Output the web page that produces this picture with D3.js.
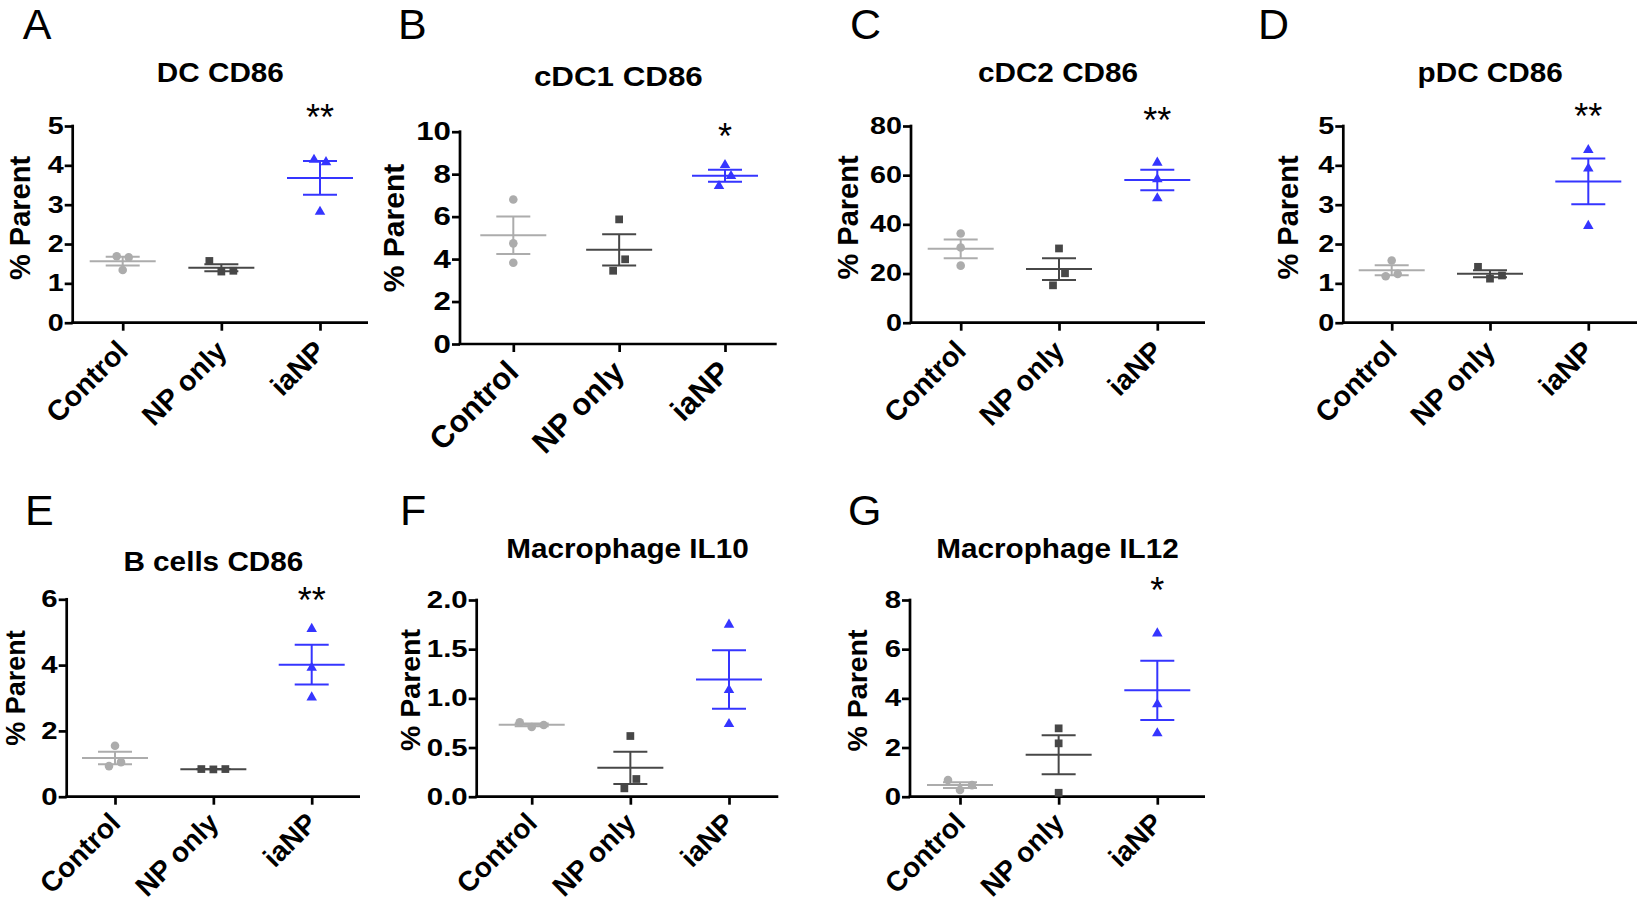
<!DOCTYPE html>
<html><head><meta charset="utf-8">
<script src="https://cdn.jsdelivr.net/npm/d3@7"></script>
<style>
body{margin:0;background:#fff}
svg{display:block}
text{font-family:"Liberation Sans",Arial,Helvetica,sans-serif}
</style>
</head><body>
<svg id="fig" width="1638" height="904"></svg>
<script>
// ---------- data ----------
const categories = ["Control", "NP only", "iaNP"];
const panelLetters = ["A", "B", "C", "D", "E", "F", "G"];
const titles = ["DC CD86", "cDC1 CD86", "cDC2 CD86", "pDC CD86", "B cells CD86", "Macrophage IL10", "Macrophage IL12"];
const yMaxes = [5, 10, 80, 5, 6, 2, 8];
const yTickSteps = [1, 2, 20, 1, 2, 0.5, 2];
const yTickFormats = ["d", "d", "d", "d", "d", ".1f", "d"];
const stars = ["**", "*", "**", "**", "**", "", "*"];
const yLabel = "% Parent";

// values per group: [Control, NP only, iaNP]
const dcCD86     = [[1.69, 1.66, 1.34], [1.57, 1.30, 1.32], [4.14, 4.08, 2.82]];
const cdc1CD86   = [[6.81, 4.74, 3.83], [5.87, 3.45, 3.99], [8.43, 7.44, 7.91]];
const cdc2CD86   = [[36.3, 30.6, 23.2], [30.2, 15.2, 20.1], [65.1, 58.4, 50.6]];
const pdcCD86    = [[1.58, 1.18, 1.24], [1.42, 1.12, 1.20], [4.39, 3.92, 2.46]];
const bcellsCD86 = [[1.55, 0.93, 1.05], [0.84, 0.83, 0.84], [5.10, 3.92, 3.02]];
const macIL10    = [[0.756, 0.708, 0.729], [0.617, 0.085, 0.18], [1.75, 1.085, 0.739]];
const macIL12    = [[0.68, 0.27, 0.47], [2.78, 2.17, 0.16], [6.64, 3.76, 2.58]];
const panelValues = [dcCD86, cdc1CD86, cdc2CD86, pdcCD86, bcellsCD86, macIL10, macIL12];

// ---------- styles / layout ----------
const groupColors = ["#acacac", "#474747", "#3535ff"];
const groupShapes = [d3.symbolCircle, d3.symbolSquare, d3.symbolTriangle];

const layout = [
  {left:72.7,  right:368,   top:126,   bottom:322.7, c0:122.7,  c2:320,    letter:[22.7,39], titleY:81.7,  ylab:[20,218],    star:113,   catOff:[7,30], fs:{tick:23,cat:28.5,title:27,ylab:29}},
  {left:460,   right:776.7, top:131.7, bottom:344,   c0:513.3,  c2:725,    letter:[398,39],  titleY:86,    ylab:[393,228],   star:131.7, catOff:[7,30], fs:{tick:25,cat:31,title:28.5,ylab:30}},
  {left:911,   right:1205,  top:126,   bottom:322.7, c0:960.7,  c2:1157.3, letter:[850,39],  titleY:81.7,  ylab:[848,217.5], star:116,   catOff:[7,30], fs:{tick:23,cat:28.5,title:27,ylab:29}},
  {left:1343.3,right:1637,  top:126,   bottom:322.7, c0:1391.7, c2:1588.3, letter:[1258,39], titleY:81.7,  ylab:[1288,217.5],star:111.7, catOff:[7,30], fs:{tick:23,cat:28.5,title:27,ylab:29}},
  {left:66.7,  right:360,   top:599.3, bottom:796.7, c0:115,    c2:311.7,  letter:[25,525],  titleY:570.7, ylab:[15,688],    star:596,   catOff:[7,28], fs:{tick:23.5,cat:28,title:27,ylab:27}},
  {left:476.7, right:778.3, top:600,   bottom:796.7, c0:531.7,  c2:729,    letter:[400,525], titleY:558.3, ylab:[410,690],   star:null,  catOff:[7,28], fs:{tick:23.5,cat:28,title:27,ylab:28.5}},
  {left:910,   right:1205,  top:600,   bottom:796.7, c0:960,    c2:1157.3, letter:[848,525], titleY:558.3, ylab:[857,690.5], star:586,   catOff:[7,28], fs:{tick:23.5,cat:28,title:27,ylab:28.5}}
];

const svg = d3.select("#fig");
const AXIS_W = 2.7, LINE_W = 2, MEAN_HW = 33, CAP_HW = 17, ROW_T = 12.4, SPREAD = 12;
const TICK_SX = 1.25, TITLE_SX = 1.1;

// Prism-like column scatter: points closer than ROW_T px form a row, centered on the column
function scatterOffsets(vals, y) {
  const idx = vals.map((v, i) => i).sort((a, b) => vals[a] - vals[b]);
  const off = new Array(vals.length).fill(0);
  let i = 0;
  while (i < idx.length) {
    const startY = y(vals[idx[i]]);
    const row = [idx[i]];
    let j = i + 1;
    while (j < idx.length && Math.abs(startY - y(vals[idx[j]])) < ROW_T) { row.push(idx[j]); j++; }
    row.sort((a, b) => a - b);
    row.forEach((k, r) => { off[k] = (r - (row.length - 1) / 2) * SPREAD; });
    i = j;
  }
  return off;
}

panelValues.forEach((groups, p) => {
  const L = layout[p];
  const g = svg.append("g");
  const y = d3.scaleLinear().domain([0, yMaxes[p]]).range([L.bottom, L.top]);
  const x = d3.scalePoint().domain(categories).range([L.c0, L.c2]);

  // panel letter
  g.append("text").attr("x", L.letter[0]).attr("y", L.letter[1])
    .attr("font-size", 43).attr("fill", "#000").text(panelLetters[p]);
  // title
  g.append("text").attr("transform", `translate(${(L.left + L.right) / 2},${L.titleY}) scale(${TITLE_SX},1)`)
    .attr("text-anchor", "middle").attr("font-weight", "bold")
    .attr("font-size", L.fs.title).text(titles[p]);
  // y label
  g.append("text").attr("transform", `translate(${L.ylab[0]},${L.ylab[1]}) rotate(-90)`)
    .attr("text-anchor", "middle").attr("dy", "0.36em")
    .attr("font-weight", "bold").attr("font-size", L.fs.ylab).text(yLabel);

  // y axis
  const ticks = d3.range(0, yMaxes[p] + yTickSteps[p] / 2, yTickSteps[p]);
  const yAxis = d3.axisLeft(y).tickValues(ticks).tickFormat(d3.format(yTickFormats[p]))
    .tickSize(8).tickPadding(1);
  const ya = g.append("g").attr("transform", `translate(${L.left},0)`).call(yAxis);
  ya.select(".domain").remove();
  ya.selectAll(".tick line").attr("stroke", "#000").attr("stroke-width", AXIS_W);
  ya.selectAll(".tick text").attr("fill", "#000").attr("font-size", L.fs.tick)
    .attr("font-weight", "bold").style("font-family", '"Liberation Sans",Arial,sans-serif')
    .attr("x", 0).attr("transform", `translate(-9,0) scale(${TICK_SX},1)`);
  g.append("line").attr("x1", L.left).attr("x2", L.left)
    .attr("y1", L.top - AXIS_W / 2).attr("y2", L.bottom)
    .attr("stroke", "#000").attr("stroke-width", AXIS_W);

  // x axis
  const xAxis = d3.axisBottom(x).tickSize(8).tickFormat("");
  const xa = g.append("g").attr("transform", `translate(0,${L.bottom})`).call(xAxis);
  xa.select(".domain").remove();
  xa.selectAll(".tick line").attr("stroke", "#000").attr("stroke-width", AXIS_W);
  g.append("line").attr("x1", L.left - AXIS_W / 2).attr("x2", L.right)
    .attr("y1", L.bottom).attr("y2", L.bottom)
    .attr("stroke", "#000").attr("stroke-width", AXIS_W);
  // category labels
  categories.forEach(c => {
    g.append("text")
      .attr("transform", `translate(${x(c) + L.catOff[0]},${L.bottom + L.catOff[1]}) rotate(-45)`)
      .attr("text-anchor", "end").attr("font-weight", "bold")
      .attr("font-size", L.fs.cat).text(c);
  });

  // groups
  groups.forEach((vals, gi) => {
    const cx = x(categories[gi]);
    const col = groupColors[gi];
    const m = d3.mean(vals);
    const sem = d3.deviation(vals) / Math.sqrt(vals.length);
    const eg = g.append("g").attr("stroke", col).attr("stroke-width", LINE_W);
    eg.append("line").attr("x1", cx - MEAN_HW).attr("x2", cx + MEAN_HW).attr("y1", y(m)).attr("y2", y(m));
    eg.append("line").attr("x1", cx).attr("x2", cx).attr("y1", y(m + sem)).attr("y2", y(m - sem));
    [m + sem, m - sem].forEach(v => {
      eg.append("line").attr("x1", cx - CAP_HW).attr("x2", cx + CAP_HW).attr("y1", y(v)).attr("y2", y(v));
    });
    const offs = scatterOffsets(vals, y);
    const sz = gi === 0 ? 58 : gi === 1 ? 60 : 48;
    g.selectAll(null).data(vals).join("path")
      .attr("d", d3.symbol().type(groupShapes[gi]).size(sz))
      .attr("transform", (v, i) => `translate(${cx + offs[i]},${y(v)})`)
      .attr("fill", col);
  });

  // significance stars
  if (stars[p]) {
    g.append("text").attr("x", x(categories[2])).attr("y", L.star + 17)
      .attr("text-anchor", "middle").attr("font-size", 36).attr("fill", "#000")
      .text(stars[p]);
  }
});
</script>
</body></html>
